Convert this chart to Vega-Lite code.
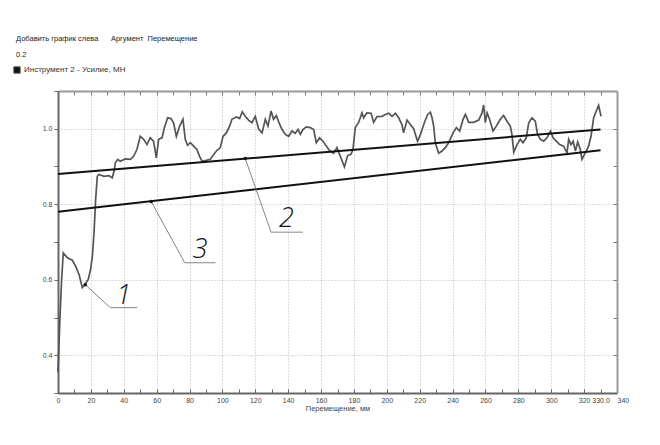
{
  "$schema": "https://vega.github.io/schema/vega-lite/v6.json",
  "autosize": "none",
  "width": 559,
  "height": 302,
  "padding": {"left": 58, "top": 91, "right": 43, "bottom": 52},
  "background": "white",
  "title": {
    "text": "Добавить график слева\u00a0\u00a0\u00a0\u00a0\u00a0\u00a0Аргумент\u00a0\u00a0Перемещение",
    "subtitle": "0.2",
    "anchor": "start",
    "frame": "bounds",
    "fontSize": 7.5,
    "fontWeight": "normal",
    "fontStyle": "normal",
    "font": "Liberation Sans",
    "color": "#222",
    "subtitleFont": "Liberation Sans",
    "subtitleFontSize": 7.5,
    "subtitleFontStyle": "normal",
    "subtitleFontWeight": "normal",
    "subtitleColor": "#222",
    "subtitlePadding": 8,
    "offset": 8,
    "dx": 3
  },
  "datasets": {
    "curve": [
      {"x": 0, "y": 0.355}, {"x": 1.2, "y": 0.5}, {"x": 2.2, "y": 0.6}, {"x": 3.2, "y": 0.671},
      {"x": 5.7, "y": 0.658}, {"x": 8.7, "y": 0.652}, {"x": 10.7, "y": 0.636}, {"x": 12.8, "y": 0.614},
      {"x": 14.8, "y": 0.579}, {"x": 16.2, "y": 0.587}, {"x": 18.4, "y": 0.601}, {"x": 19.8, "y": 0.627},
      {"x": 20.9, "y": 0.662}, {"x": 21.9, "y": 0.724}, {"x": 22.9, "y": 0.813}, {"x": 23.9, "y": 0.874},
      {"x": 24.9, "y": 0.879}, {"x": 28, "y": 0.874}, {"x": 31, "y": 0.876}, {"x": 33, "y": 0.87},
      {"x": 34.1, "y": 0.888}, {"x": 34.9, "y": 0.91}, {"x": 36.3, "y": 0.919}, {"x": 37.9, "y": 0.914},
      {"x": 40.9, "y": 0.92}, {"x": 44, "y": 0.919}, {"x": 46, "y": 0.927}, {"x": 48, "y": 0.945},
      {"x": 50, "y": 0.98}, {"x": 52.1, "y": 0.972}, {"x": 54.1, "y": 0.958}, {"x": 56.1, "y": 0.976},
      {"x": 58.1, "y": 0.967}, {"x": 59.8, "y": 0.923}, {"x": 61.2, "y": 0.972}, {"x": 63.3, "y": 0.976},
      {"x": 64.7, "y": 1.003}, {"x": 66.7, "y": 1.029}, {"x": 68.7, "y": 1.027}, {"x": 70.3, "y": 1.016},
      {"x": 72, "y": 0.98}, {"x": 74, "y": 1.007}, {"x": 76, "y": 1.025}, {"x": 77.4, "y": 0.972},
      {"x": 78.8, "y": 0.956}, {"x": 80.5, "y": 0.963}, {"x": 82.5, "y": 0.954}, {"x": 84.5, "y": 0.945},
      {"x": 86.1, "y": 0.927}, {"x": 87.6, "y": 0.914}, {"x": 89.6, "y": 0.916}, {"x": 92.6, "y": 0.919},
      {"x": 94.7, "y": 0.932}, {"x": 96.7, "y": 0.943}, {"x": 98.7, "y": 0.95}, {"x": 100.4, "y": 0.98},
      {"x": 102.4, "y": 0.989}, {"x": 104.4, "y": 1.007}, {"x": 105.8, "y": 1.025}, {"x": 108.5, "y": 1.031},
      {"x": 110.5, "y": 1.027}, {"x": 112.1, "y": 1.045}, {"x": 113.9, "y": 1.033}, {"x": 115.9, "y": 1.023},
      {"x": 118, "y": 1.016}, {"x": 120, "y": 1.033}, {"x": 122, "y": 1.0}, {"x": 124.1, "y": 0.989},
      {"x": 126.1, "y": 1.025}, {"x": 127.7, "y": 1.007}, {"x": 129.6, "y": 1.047}, {"x": 131.1, "y": 1.025},
      {"x": 132.8, "y": 1.035}, {"x": 134.4, "y": 1.016}, {"x": 136.3, "y": 0.998}, {"x": 138.3, "y": 0.985},
      {"x": 140.3, "y": 0.98}, {"x": 142.3, "y": 0.994}, {"x": 144.3, "y": 0.988}, {"x": 146, "y": 0.998},
      {"x": 147.4, "y": 0.985}, {"x": 149, "y": 0.998}, {"x": 151, "y": 1.005}, {"x": 153.5, "y": 1.003},
      {"x": 155.5, "y": 0.998}, {"x": 157.1, "y": 0.963}, {"x": 159.1, "y": 0.976}, {"x": 161.2, "y": 0.967},
      {"x": 163.2, "y": 0.954}, {"x": 165.2, "y": 0.942}, {"x": 167.6, "y": 0.935}, {"x": 169.7, "y": 0.95},
      {"x": 171.7, "y": 0.927}, {"x": 174.2, "y": 0.899}, {"x": 176.2, "y": 0.929}, {"x": 178.2, "y": 0.932},
      {"x": 179.4, "y": 0.945}, {"x": 180.8, "y": 1.003}, {"x": 182.8, "y": 1.016}, {"x": 184.9, "y": 1.042},
      {"x": 185.9, "y": 1.029}, {"x": 187.9, "y": 1.042}, {"x": 190.4, "y": 1.041}, {"x": 192, "y": 1.017},
      {"x": 194, "y": 1.032}, {"x": 197.1, "y": 1.033}, {"x": 199.1, "y": 1.038}, {"x": 201.1, "y": 1.041},
      {"x": 203.2, "y": 1.033}, {"x": 205.2, "y": 1.041}, {"x": 207.2, "y": 1.029}, {"x": 209.2, "y": 1.011},
      {"x": 210.2, "y": 0.989}, {"x": 212.3, "y": 1.023}, {"x": 214.3, "y": 1.011}, {"x": 216.3, "y": 1.0},
      {"x": 218.7, "y": 0.967}, {"x": 220.8, "y": 0.989}, {"x": 222.8, "y": 1.016}, {"x": 224.8, "y": 1.038},
      {"x": 226.5, "y": 1.044}, {"x": 227.5, "y": 1.029}, {"x": 228.5, "y": 1.007}, {"x": 229.5, "y": 0.963},
      {"x": 231.5, "y": 0.935}, {"x": 233.6, "y": 0.941}, {"x": 235.6, "y": 0.95}, {"x": 237.6, "y": 0.963},
      {"x": 240.3, "y": 0.989}, {"x": 242.3, "y": 1.003}, {"x": 244.3, "y": 0.994}, {"x": 246.4, "y": 1.025},
      {"x": 247.8, "y": 1.038}, {"x": 249.8, "y": 1.017}, {"x": 252.8, "y": 1.017}, {"x": 255.9, "y": 1.023},
      {"x": 257.9, "y": 1.042}, {"x": 258.9, "y": 1.063}, {"x": 259.9, "y": 1.016}, {"x": 261, "y": 1.042},
      {"x": 262.5, "y": 1.025}, {"x": 264.6, "y": 0.994}, {"x": 266.6, "y": 1.007}, {"x": 269, "y": 1.025},
      {"x": 271, "y": 1.035}, {"x": 273.1, "y": 1.02}, {"x": 275.1, "y": 1.007}, {"x": 276.1, "y": 0.985},
      {"x": 277.2, "y": 0.938}, {"x": 279.2, "y": 0.958}, {"x": 281.2, "y": 0.972}, {"x": 282.8, "y": 0.963},
      {"x": 284.8, "y": 0.976}, {"x": 286.3, "y": 1.016}, {"x": 288.3, "y": 1.029}, {"x": 290.3, "y": 1.02},
      {"x": 291.7, "y": 0.985}, {"x": 293.4, "y": 0.972}, {"x": 295.4, "y": 0.967}, {"x": 297.4, "y": 0.976},
      {"x": 299.5, "y": 0.994}, {"x": 301.1, "y": 0.976}, {"x": 303.1, "y": 0.967}, {"x": 305.1, "y": 0.958},
      {"x": 307.5, "y": 0.954}, {"x": 309.6, "y": 0.936}, {"x": 310.6, "y": 0.972}, {"x": 312, "y": 0.958},
      {"x": 313.3, "y": 0.967}, {"x": 314.7, "y": 0.941}, {"x": 316.1, "y": 0.965}, {"x": 317.7, "y": 0.945},
      {"x": 318.7, "y": 0.919}, {"x": 320.7, "y": 0.936}, {"x": 322.7, "y": 0.954}, {"x": 324.2, "y": 0.98},
      {"x": 325.8, "y": 1.029}, {"x": 327.4, "y": 1.047}, {"x": 328.8, "y": 1.062}, {"x": 330.3, "y": 1.033}
    ],
    "trends": [
      {"line": "2", "x": 0, "y": 0.88}, {"line": "2", "x": 330, "y": 0.998},
      {"line": "3", "x": 0, "y": 0.78}, {"line": "3", "x": 330, "y": 0.943}
    ],
    "leaders": [
      {"id": "1", "x": 16.6, "y": 0.587, "x2": 31.8, "y2": 0.526},
      {"id": "1", "x": 31.8, "y": 0.526, "x2": 48.2, "y2": 0.526},
      {"id": "2", "x": 113.9, "y": 0.921, "x2": 129.6, "y2": 0.726},
      {"id": "2", "x": 129.6, "y": 0.726, "x2": 149, "y2": 0.726},
      {"id": "3", "x": 56.7, "y": 0.807, "x2": 77.1, "y2": 0.645},
      {"id": "3", "x": 77.1, "y": 0.645, "x2": 95.8, "y2": 0.645}
    ],
    "labels": [
      {"id": "1", "x": 39.9, "y": 0.558},
      {"id": "2", "x": 138.9, "y": 0.76},
      {"id": "3", "x": 86.3, "y": 0.678}
    ],
    "dots": [
      {"x": 16.6, "y": 0.587}, {"x": 113.9, "y": 0.921}, {"x": 56.7, "y": 0.807}
    ]
  },
  "layer": [
    {
      "data": {"name": "curve"},
      "mark": {"type": "line", "strokeWidth": 1.7, "interpolate": "linear"},
      "encoding": {
        "x": {
          "field": "x", "type": "quantitative",
          "scale": {"domain": [0, 340], "nice": false, "zero": false},
          "axis": {
            "orient": "bottom",
            "values": [0, 10, 20, 30, 40, 50, 60, 70, 80, 90, 100, 110, 120, 130, 140, 150, 160, 170, 180, 190, 200, 210, 220, 230, 240, 250, 260, 270, 280, 290, 300, 310, 320, 330, 340],
            "labelExpr": "datum.value === 330 ? '330.0' : (datum.value % 20 === 0 ? datum.label : '')",
            "labelOverlap": false,
            "labelAlign": {"condition": {"test": "datum.value === 340", "value": "left"}, "value": "center"},
            "labelFont": "Liberation Sans", "labelFontSize": 7, "labelColor": "#444",
            "labelPadding": 7,
            "tickSize": -4, "tickColor": "#666", "tickWidth": 1,
            "domainColor": "#666", "domainWidth": 2,
            "grid": true, "gridColor": "#bbb", "gridDash": [1, 2], "gridWidth": 1,
            "gridOpacity": {"condition": {"test": "datum.value % 20 === 0 && datum.value > 0 && datum.value < 340", "value": 1}, "value": 0},
            "title": "Перемещение, мм",
            "titleFont": "Liberation Sans", "titleFontSize": 7.5, "titleFontWeight": "normal", "titleColor": "#444",
            "titlePadding": 1
          }
        },
        "y": {
          "field": "y", "type": "quantitative",
          "scale": {"domain": [0.3, 1.1], "nice": false, "zero": false},
          "axis": {
            "orient": "left",
            "values": [0.3, 0.4, 0.5, 0.6, 0.7, 0.8, 0.9, 1.0, 1.1],
            "format": ".1f",
            "labelExpr": "round(datum.value * 10) % 2 === 0 ? datum.label : ''",
            "labelFont": "Liberation Sans", "labelFontSize": 7, "labelColor": "#444",
            "labelPadding": 2,
            "tickSize": 4, "tickColor": "#666",
            "domainColor": "#666", "domainWidth": 2,
            "grid": true, "gridColor": "#bbb", "gridDash": [1, 2], "gridWidth": 1,
            "gridOpacity": {"condition": {"test": "round(datum.value * 10) % 2 === 0", "value": 1}, "value": 0},
            "title": null
          }
        },
        "color": {
          "datum": "Инструмент 2 - Усилие, МН",
          "scale": {"range": ["#555555"]},
          "legend": {
            "orient": "none", "legendX": -45, "legendY": -25,
            "title": null, "symbolType": "square", "symbolSize": 40,
            "symbolFillColor": "#111", "symbolStrokeColor": "#111", "symbolStrokeWidth": 1,
            "labelFont": "Liberation Sans", "labelFontSize": 8, "labelColor": "#333", "labelOffset": 3
          }
        }
      }
    },
    {
      "data": {"name": "trends"},
      "mark": {"type": "line", "color": "#111", "strokeWidth": 2},
      "encoding": {
        "x": {
          "field": "x", "type": "quantitative",
          "axis": {
            "orient": "top",
            "values": [10, 20, 30, 40, 50, 60, 70, 80, 90, 100, 110, 120, 130, 140, 150, 160, 170, 180, 190, 200, 210, 220, 230, 240, 250, 260, 270, 280, 290, 300, 310, 320, 330],
            "labels": false, "tickSize": -4, "tickColor": "#777",
            "domainColor": "#999", "domainWidth": 2, "grid": false, "title": null
          }
        },
        "y": {
          "field": "y", "type": "quantitative",
          "axis": {
            "orient": "right",
            "values": [0.4, 0.5, 0.6, 0.7, 0.8, 0.9, 1.0],
            "labels": false, "tickSize": -4, "tickColor": "#777",
            "domainColor": "#999", "domainWidth": 2, "grid": false, "title": null
          }
        },
        "detail": {"field": "line", "type": "nominal"}
      }
    },
    {
      "mark": {"type": "rule", "color": "#aaa", "strokeWidth": 1},
      "encoding": {
        "x": {"datum": 330, "type": "quantitative", "axis": null}
      }
    },
    {
      "data": {"name": "leaders"},
      "mark": {"type": "rule", "color": "#777", "strokeWidth": 0.9},
      "encoding": {
        "x": {"field": "x", "type": "quantitative", "axis": null},
        "y": {"field": "y", "type": "quantitative", "axis": null},
        "x2": {"field": "x2"},
        "y2": {"field": "y2"}
      }
    },
    {
      "data": {"name": "dots"},
      "mark": {"type": "circle", "color": "#111", "size": 12, "opacity": 1},
      "encoding": {
        "x": {"field": "x", "type": "quantitative", "axis": null},
        "y": {"field": "y", "type": "quantitative", "axis": null}
      }
    },
    {
      "data": {"name": "labels"},
      "mark": {"type": "text", "font": "Open Sans", "fontStyle": "italic", "fontWeight": 300, "fontSize": 27, "color": "#111", "align": "center", "baseline": "middle"},
      "encoding": {
        "x": {"field": "x", "type": "quantitative", "axis": null},
        "y": {"field": "y", "type": "quantitative", "axis": null},
        "text": {"field": "id", "type": "nominal"}
      }
    }
  ],
  "resolve": {"axis": {"x": "independent", "y": "independent"}}
}
